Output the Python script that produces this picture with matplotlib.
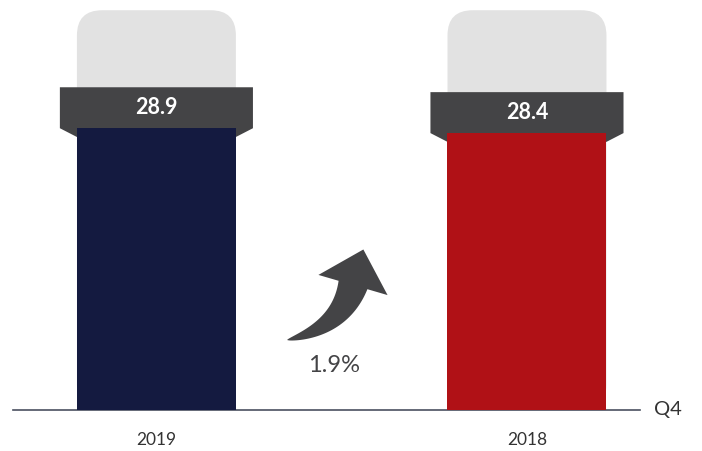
import numpy as np
import matplotlib.pyplot as plt
from matplotlib.patches import FancyBboxPatch, Polygon

# Q4 values
years = ['2019', '2018']
values = [28.9, 28.4]
colors = ['#141a40', '#b01116']
change_label = '1.9%'
period = 'Q4'
bg_top = 41.0   # height of the light grey "capacity" bar behind each bar

W, H = 702, 451
fig = plt.figure(figsize=(W / 100, H / 100), dpi=100)
# axes: x from px 13 to 640, y from px 410 (baseline) to the top
ax = fig.add_axes([13 / W, 41 / H, 627 / W, 410 / H])
ax.set_xlim(-0.387, 1.305)
ax.set_ylim(0, 42.05)

bar_w = 0.429
box_w = 0.521
box_h = 4.2
wing = 0.9

for i, (yr, v, c) in enumerate(zip(years, values, colors)):
    # grey background with rounded top corners
    bg = FancyBboxPatch((i - bar_w / 2, 0), bar_w, bg_top,
                        boxstyle='round,pad=0,rounding_size=0.068',
                        mutation_aspect=38, fc='#e2e2e2', ec='none', zorder=1)
    ax.add_patch(bg)
    # dark label box with slanted wings
    hb, hw = box_w / 2, bar_w / 2
    box = Polygon([(i - hb, v + box_h), (i + hb, v + box_h), (i + hb, v),
                   (i + hw, v - wing), (i - hw, v - wing), (i - hb, v)],
                  closed=True, fc='#444446', ec='none', zorder=2)
    ax.add_patch(box)
    ax.bar(i, v, width=bar_w, color=c, zorder=3)
    ax.text(i, v + box_h / 2, f'{v:.1f}', ha='center', va='center',
            color='white', fontsize=15.5, fontweight='bold', family='Lato', zorder=4)

ax.set_xticks(range(len(years)))
ax.set_xticklabels(years, fontsize=12.5, color='#333333', family='Lato')
ax.tick_params(axis='x', length=0, pad=16)
ax.set_yticks([])
for s in ['top', 'right', 'left']:
    ax.spines[s].set_visible(False)
ax.spines['bottom'].set_color('#4a5060')
ax.spines['bottom'].set_linewidth(1.2)

fig.text(668 / W, 1 - 410 / H, period, ha='center', va='center',
         fontsize=14.5, color='#333333', family='Lato')

# curved growth arrow: tapered swoosh along a quadratic bezier (pixel space)
p0 = np.array([287.0, 340.0])   # pointed tail
p2 = np.array([353.0, 285.0])   # middle of the head base
d = np.array([0.28, -0.96])     # head direction
p1 = p2 - 45 * d
u = np.linspace(0, 1, 60)[:, None]
pts = (1 - u) ** 2 * p0 + 2 * (1 - u) * u * p1 + u ** 2 * p2
tan = 2 * (1 - u) * (p1 - p0) + 2 * u * (p2 - p1)
tan /= np.linalg.norm(tan, axis=1, keepdims=True)
nrm = np.column_stack([tan[:, 1], -tan[:, 0]])
half = 15 * u ** 0.7
side_a = pts + nrm * half
side_b = pts - nrm * half
perp = np.array([d[1], -d[0]])
head = [p2 + perp * 36, p2 + d * 37, p2 - perp * 36]
outline = np.vstack([side_a, head if np.dot(perp, nrm[-1]) > 0 else head[::-1], side_b[::-1]])
outline = np.column_stack([outline[:, 0] / W, 1 - outline[:, 1] / H])
fig.patches.append(Polygon(outline, closed=True, transform=fig.transFigure,
                           fc='#444446', ec='none', zorder=5))
fig.text(334 / W, 1 - 366 / H, change_label, ha='center', va='center',
         fontsize=17, color='#444446', family='Lato')

fig.savefig('out.png', dpi=100)
